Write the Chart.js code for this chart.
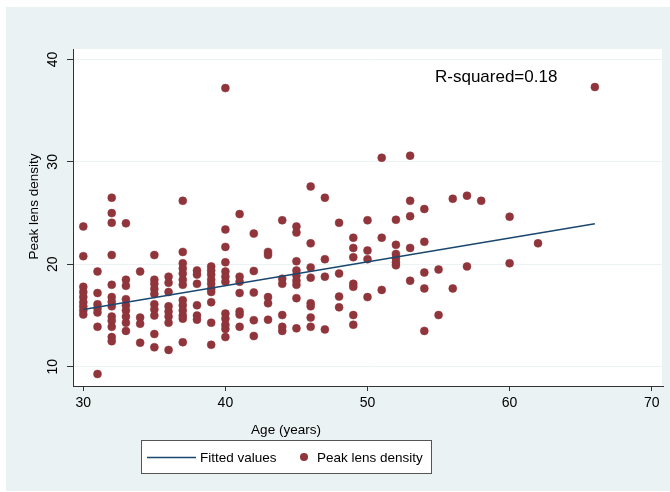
<!DOCTYPE html>
<html>
<head>
<meta charset="utf-8">
<script src="https://cdn.jsdelivr.net/npm/chart.js@4/dist/chart.umd.min.js"></script>
<style>
  html, body { margin: 0; padding: 0; background: #ffffff; }
  canvas { display: block; }
</style>
</head>
<body>
<canvas id="c" width="670" height="492"></canvas>
<script>
// ---- Data ----
const ageGroups = [30,31,32,33,34,35,36,37,38,39,40,41,42,43,44,45,46,47,48,49,50,51,52,53,54,55,56,57,58,60,62,66];
const densityGroups = [
  [23.7, 20.8, 17.8, 17.3, 16.8, 16.3, 15.9, 15.5, 15.1],
  [19.3, 17.2, 16.1, 15.7, 15.3, 13.9, 9.3],
  [26.5, 25.0, 24.05, 20.9, 18.0, 16.8, 16.35, 15.9, 14.9, 14.5, 13.9, 12.9, 12.5],
  [24.0, 18.5, 17.9, 16.6, 16.0, 15.5, 14.9, 14.3, 13.5],
  [19.3, 14.8, 14.2, 12.35],
  [20.9, 18.5, 18.1, 17.6, 17.1, 16.1, 15.6, 15.0, 13.2, 11.9],
  [18.8, 18.2, 17.3, 15.9, 15.4, 14.9, 14.3, 11.65],
  [26.2, 21.2, 20.1, 19.6, 19.1, 18.5, 18.0, 16.5, 16.0, 15.5, 15.0, 14.7, 12.4],
  [19.4, 19.0, 18.1, 16.0, 15.0, 14.6],
  [19.8, 19.4, 19.0, 18.5, 18.1, 17.6, 17.3, 16.3, 14.3, 12.15],
  [37.2, 23.4, 21.7, 20.2, 19.3, 18.8, 18.3, 15.2, 14.7, 14.1, 13.7, 12.9],
  [24.9, 18.8, 18.3, 17.2, 15.4, 15.1, 13.9],
  [23.0, 19.35, 17.25, 14.55, 13.0],
  [21.2, 20.9, 16.8, 16.2, 14.6],
  [24.3, 18.6, 18.1, 15.05, 13.9, 13.5],
  [23.7, 23.1, 20.3, 19.4, 18.9, 18.4, 18.0, 16.7, 13.75],
  [27.6, 22.05, 19.7, 18.7, 16.2, 15.9, 14.8, 13.9],
  [26.5, 20.5, 18.8, 13.65],
  [24.05, 19.1, 16.85, 15.8],
  [22.6, 21.6, 20.7, 18.1, 17.8, 15.05, 14.1],
  [24.3, 21.35, 20.5, 16.8],
  [30.4, 22.6, 17.5],
  [24.35, 21.9, 21.0, 20.6, 20.2, 19.9],
  [30.6, 26.2, 24.7, 21.6, 18.4],
  [25.4, 22.2, 19.2, 17.65, 13.5],
  [19.5, 15.05],
  [26.4, 17.65],
  [26.7, 19.8],
  [26.2],
  [24.65, 20.1],
  [22.05],
  [37.3]
];
const fitAge = [30, 66];
const fitValue = [15.6, 23.95];
const xTickValues = [30, 40, 50, 60, 70];
const yTickValues = [10, 20, 30, 40];
const rSquaredLabel = 'R-squared=0.18';
const xTitle = 'Age (years)';
const yTitle = 'Peak lens density';
const fitLabel = 'Fitted values';
const pointLabel = 'Peak lens density';

// ---- Styling ----
const FONT = '"Liberation Sans", Arial, Helvetica, sans-serif';
const BG = '#eaf2f3';
const MAROON = '#90353b';
const NAVY = '#1a476f';
const AXIS = '#333333';

const scatterData = [];
ageGroups.forEach((a, i) => densityGroups[i].forEach(v => scatterData.push({ x: a, y: v })));
const lineData = fitAge.map((a, i) => ({ x: a, y: fitValue[i] }));

const decorPlugin = {
  id: 'decor',
  beforeDraw(chart) {
    const ctx = chart.ctx;
    const ca = chart.chartArea;
    ctx.save();
    ctx.fillStyle = '#ffffff';
    ctx.fillRect(0, 0, chart.width, chart.height);
    ctx.fillStyle = BG;
    ctx.fillRect(6, 7, chart.width - 6, 484);
    ctx.fillStyle = '#ffffff';
    ctx.fillRect(ca.left, ca.top, ca.right - ca.left - 1, ca.bottom - ca.top);
    ctx.restore();
  },
  afterDraw(chart) {
    const ctx = chart.ctx;
    ctx.save();
    ctx.fillStyle = '#000';
    // R-squared annotation
    ctx.font = '17px ' + FONT;
    ctx.textAlign = 'left';
    ctx.textBaseline = 'alphabetic';
    ctx.fillText(rSquaredLabel, 435, 81.5);
    // x title
    ctx.font = '13.5px ' + FONT;
    ctx.textAlign = 'center';
    ctx.textBaseline = 'middle';
    ctx.fillText(xTitle, 286, 430);
    // y title
    ctx.save();
    ctx.translate(34.5, 206.5);
    ctx.rotate(-Math.PI / 2);
    ctx.fillText(yTitle, 0, 0);
    ctx.restore();
    // legend box
    ctx.fillStyle = '#ffffff';
    ctx.fillRect(141.5, 440.5, 290, 33);
    ctx.strokeStyle = '#555';
    ctx.lineWidth = 1;
    ctx.strokeRect(141.5, 440.5, 290, 33);
    ctx.strokeStyle = NAVY;
    ctx.lineWidth = 1.5;
    ctx.beginPath();
    ctx.moveTo(147, 457.5);
    ctx.lineTo(196, 457.5);
    ctx.stroke();
    ctx.fillStyle = '#000';
    ctx.font = '13.5px ' + FONT;
    ctx.textAlign = 'left';
    ctx.textBaseline = 'middle';
    ctx.fillText(fitLabel, 200, 458);
    ctx.fillStyle = MAROON;
    ctx.beginPath();
    ctx.arc(304, 457, 4, 0, Math.PI * 2);
    ctx.fill();
    ctx.fillStyle = '#000';
    ctx.fillText(pointLabel, 317, 458);
    ctx.restore();
  }
};

new Chart(document.getElementById('c'), {
  type: 'scatter',
  data: {
    datasets: [
      {
        label: pointLabel,
        data: scatterData,
        backgroundColor: MAROON,
        borderColor: MAROON,
        borderWidth: 0.5,
        pointRadius: 4,
        order: 2
      },
      {
        label: fitLabel,
        data: lineData,
        showLine: true,
        borderColor: NAVY,
        backgroundColor: NAVY,
        borderWidth: 1.5,
        pointRadius: 0,
        order: 1
      }
    ]
  },
  options: {
    responsive: false,
    animation: false,
    devicePixelRatio: 1,
    layout: { padding: { top: 49, right: 7, left: 0, bottom: 0 } },
    plugins: { legend: { display: false }, tooltip: { enabled: false } },
    scales: {
      x: {
        type: 'linear',
        min: 29.275,
        max: 70.795,
        afterBuildTicks: s => { s.ticks = xTickValues.map(v => ({ value: v })); },
        afterFit: s => { s.height = 106; },
        grid: { drawOnChartArea: false, drawTicks: true, tickLength: 5, tickColor: AXIS, tickWidth: 1 },
        border: { color: AXIS, width: 1 },
        ticks: { color: '#000', font: { family: FONT, size: 14 }, padding: 4, maxRotation: 0, autoSkip: false }
      },
      y: {
        type: 'linear',
        min: 8.126,
        max: 41.015,
        afterBuildTicks: s => { s.ticks = yTickValues.map(v => ({ value: v })); },
        afterFit: s => { s.width = 73; },
        grid: { color: BG, lineWidth: 1, drawTicks: true, tickLength: 6, tickColor: AXIS, tickWidth: 1 },
        border: { color: AXIS, width: 1 },
        ticks: { color: '#000', font: { family: FONT, size: 14 }, padding: 6, minRotation: 90, maxRotation: 90, crossAlign: 'center', autoSkip: false }
      }
    }
  },
  plugins: [decorPlugin]
});
</script>
</body>
</html>
